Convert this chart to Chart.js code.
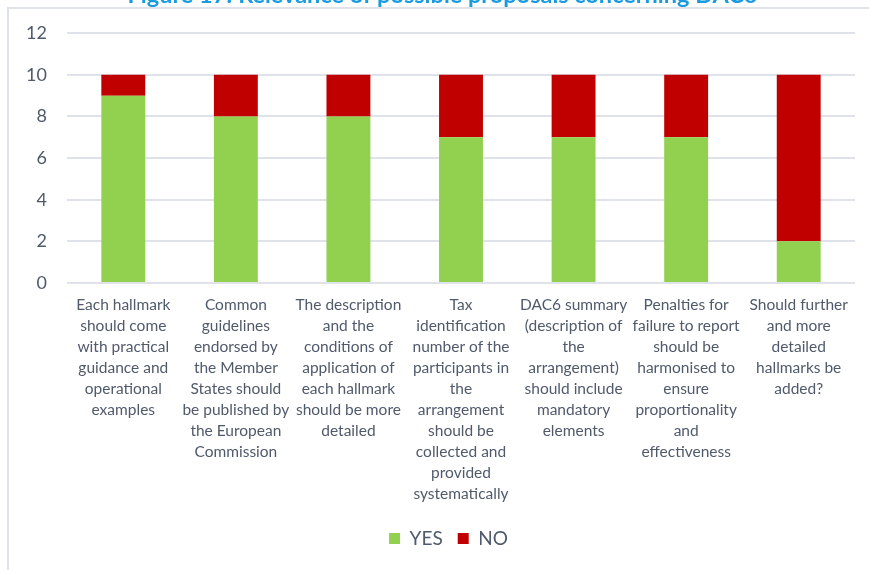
<!DOCTYPE html>
<html>
<head>
<meta charset="utf-8">
<script src="https://cdn.jsdelivr.net/npm/chart.js@4"></script>
<style>
  body { margin: 0; background: #fff; overflow: hidden; }
  #frame {
    position: absolute; left: 7px; top: 7px; width: 900px; height: 600px;
    border-left: 2px solid #dfe2e8; border-top: 2px solid #dfe2e8;
  }
  #wrap { position: absolute; left: 0; top: -20px; width: 869px; height: 590px; }
</style>
</head>
<body>
<div id="frame"></div>
<div id="wrap"><canvas id="chart"></canvas></div>
<script>
// Survey answers per proposal
const categories = [
  ["Each hallmark", "should come", "with practical", "guidance and", "operational", "examples"],
  ["Common", "guidelines", "endorsed by", "the Member", "States should", "be published by", "the European", "Commission"],
  ["The description", "and the", "conditions of", "application of", "each hallmark", "should be more", "detailed"],
  ["Tax", "identification", "number of the", "participants in", "the", "arrangement", "should be", "collected and", "provided", "systematically"],
  ["DAC6 summary", "(description of", "the", "arrangement)", "should include", "mandatory", "elements"],
  ["Penalties for", "failure to report", "should be", "harmonised to", "ensure", "proportionality", "and", "effectiveness"],
  ["Should further", "and more", "detailed", "hallmarks be", "added?"]
];
const yesValues = [9, 8, 8, 7, 7, 7, 2];
const noValues = [1, 2, 2, 3, 3, 3, 8];

const textColor = "#505a6b";
const gridColor = "#dfe2e8";

// nudge title and legend to the right, like the original figure
const shiftBoxes = {
  id: "shiftBoxes",
  afterLayout(chart) {
    const t = chart.titleBlock, l = chart.legend;
    if (t) { t.left += 15; t.right += 15; }
    if (l) { l.left += 21; l.right += 21; }
  },
};

const ctx = document.getElementById("chart").getContext("2d");
new Chart(ctx, {
  type: "bar",
  data: {
    labels: categories,
    datasets: [
      { label: "YES", data: yesValues, backgroundColor: "#92d050" },
      { label: "NO", data: noValues, backgroundColor: "#c00000" },
    ],
  },
  options: {
    responsive: true,
    maintainAspectRatio: false,
    animation: false,
    layout: { padding: { left: 0, right: 14, top: 0, bottom: 12 } },
    datasets: { bar: { categoryPercentage: 1, barPercentage: 0.39 } },
    scales: {
      x: {
        stacked: true,
        grid: { display: false },
        border: { display: false },
        ticks: {
          autoSkip: false,
          maxRotation: 0,
          padding: 4,
          color: textColor,
          font: { family: "Lato", size: 15.5, lineHeight: 1.35 },
        },
        afterFit: (scale) => { scale.height = 231; },
      },
      y: {
        stacked: true,
        min: 0,
        max: 12,
        ticks: {
          stepSize: 2,
          padding: 20,
          color: textColor,
          font: { family: "Lato", size: 18 },
        },
        grid: { color: gridColor, lineWidth: 2, drawTicks: false },
        border: { display: false },
        afterFit: (scale) => { scale.width = 67; },
      },
    },
    plugins: {
      title: {
        display: true,
        text: "Figure 17: Relevance of possible proposals concerning DAC6",
        color: "#1a9be0",
        font: { family: "Lato", size: 23.5, weight: "bold" },
        padding: { top: 1, bottom: 24 },
      },
      legend: {
        position: "bottom",
        labels: {
          boxWidth: 11,
          boxHeight: 11,
          padding: 15,
          color: textColor,
          font: { family: "Lato", size: 19 },
        },
      },
      tooltip: { enabled: false },
    },
  },
  plugins: [shiftBoxes],
});
</script>
</body>
</html>
